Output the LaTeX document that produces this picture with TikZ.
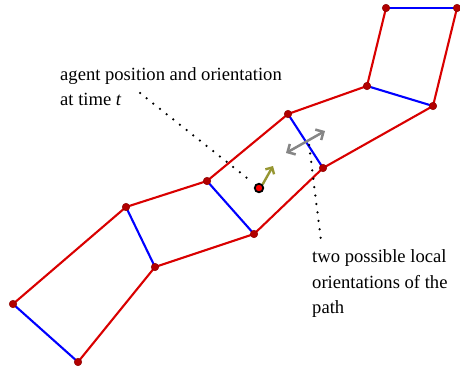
\documentclass[tikz,border=0pt]{standalone}
\usepackage{fontspec}
\setmainfont{Liberation Serif}
\usetikzlibrary{arrows.meta}
\begin{document}
\begin{tikzpicture}[x=1pt,y=-1pt,
  vtx/.style={circle,fill=red!70!black,draw=red!55!black,line width=0.5pt,inner sep=0pt,minimum size=7.5pt},
  side/.style={draw=red!85!black,line width=2.1pt},
  rung/.style={draw=blue,line width=2.1pt},
  dotline/.style={line width=2.5pt,line cap=round,dash pattern=on 0pt off 8.5pt},
  lbl/.style={font=\fontsize{18.6}{25.5}\selectfont,align=left,inner sep=0pt}]
\useasboundingbox (0,0) rectangle (460,372);
% left chain
\coordinate (a1) at (13,304);
\coordinate (a2) at (126,207);
\coordinate (a3) at (207,181);
\coordinate (a4) at (288,114);
\coordinate (a5) at (367,86);
\coordinate (a6) at (386,8);
% right chain
\coordinate (b1) at (78,362);
\coordinate (b2) at (155,267);
\coordinate (b3) at (254,234);
\coordinate (b4) at (323,168);
\coordinate (b5) at (433,106);
\coordinate (b6) at (457,8);
\draw[side] (a1)--(a2)--(a3)--(a4)--(a5)--(a6);
\draw[side] (b1)--(b2)--(b3)--(b4)--(b5)--(b6);
\foreach \i in {1,...,6} {\draw[rung] (a\i)--(b\i);}
\foreach \i in {1,...,6} {\node[vtx] (va\i) at (a\i) {}; \node[vtx] (vb\i) at (b\i) {};}
% agent
\node[circle,fill=red,draw=black,line width=1.8pt,inner sep=0pt,minimum size=8.5pt] (agent) at (259,188) {};
\coordinate (olivetip) at (273,166);
\draw[draw={rgb,255:red,150;green,150;blue,50},line width=2.4pt,-{Straight Barb[length=5pt,width=10pt]}] (agent.north east) -- (olivetip);
% gray double arrow
\coordinate (g1) at (286,153);
\coordinate (g2) at (325,131);
\draw[draw=gray!95,line width=2.5pt,{Straight Barb[length=6pt,width=12pt]}-{Straight Barb[length=6pt,width=12pt]}] (g1) -- (g2);
% labels
\node[lbl,anchor=north west] (t1) at (60,67) {agent position and orientation\\at time \textit{t}};
\node[lbl,anchor=north west] (t2) at (312,249.5) {two possible local\\orientations of the\\path};
\coordinate (d1s) at (140,93);
\coordinate (d1e) at (252,182);
\draw[dotline] (d1s) -- (d1e);
\coordinate (d2s) at (309,145);
\coordinate (d2e) at (321,240);
\draw[dotline] (d2s) -- (d2e);
\end{tikzpicture}
\end{document}
